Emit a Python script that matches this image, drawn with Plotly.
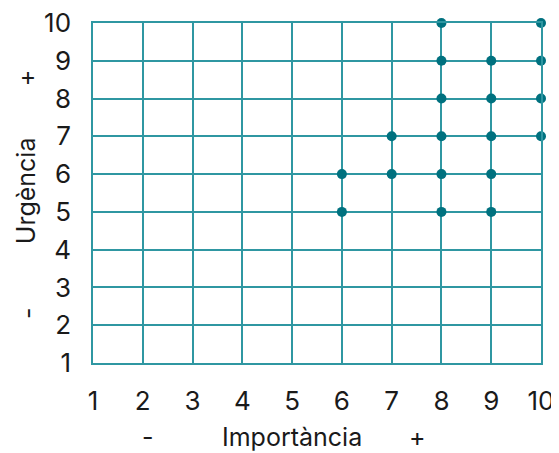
import plotly.graph_objects as go

imp = [6, 6, 7, 7, 8, 8, 8, 8, 8, 8, 9, 9, 9, 9, 9, 10, 10, 10, 10]
urg = [5, 6, 6, 7, 5, 6, 7, 8, 9, 10, 5, 6, 7, 8, 9, 7, 8, 9, 10]
ticks = list(range(1, 11))

grid_c = "#2f97a2"
mark_c = "#00717f"
tfont = dict(family="Inter, Roboto, sans-serif", size=26, color="#1a1a1a")
font = dict(family="Inter, Roboto, sans-serif", size=25, color="#1a1a1a")

fig = go.Figure(go.Scatter(x=imp, y=urg, mode="markers",
                           marker=dict(size=10, color=mark_c), cliponaxis=False))

axis = dict(range=[1, 10], tickvals=ticks, showgrid=True, gridcolor=grid_c, gridwidth=1.5,
            showline=True, linecolor=grid_c, linewidth=1.5, mirror=True, zeroline=False,
            ticks="outside", tickcolor="rgba(0,0,0,0)", tickfont=tfont, automargin=False,
            ticklabeloverflow="allow")
fig.update_xaxes(**axis, ticklen=14)
fig.update_yaxes(**axis, ticklen=15)

ann = [
    dict(text="Importància", x=0.445, y=-0.218),
    dict(text="-", x=0.1225, y=-0.218),
    dict(text="+", x=0.724, y=-0.218),
    dict(text="Urgència", x=-0.149, y=0.506, textangle=-90),
    dict(text="+", x=-0.149, y=0.838, textangle=-90),
    dict(text="-", x=-0.145, y=0.147, textangle=-90),
]
for a in ann:
    a.update(showarrow=False, font=font, xref="paper", yref="paper",
             xanchor="center", yanchor="middle")

# page body has an 8px margin; compensate so the plot area lands where the reference has it
fig.update_layout(width=551, height=445, margin=dict(l=85, r=18, t=15, b=90),
                  plot_bgcolor="white", paper_bgcolor="white", showlegend=False,
                  annotations=ann)
fig.write_html("out.html")
